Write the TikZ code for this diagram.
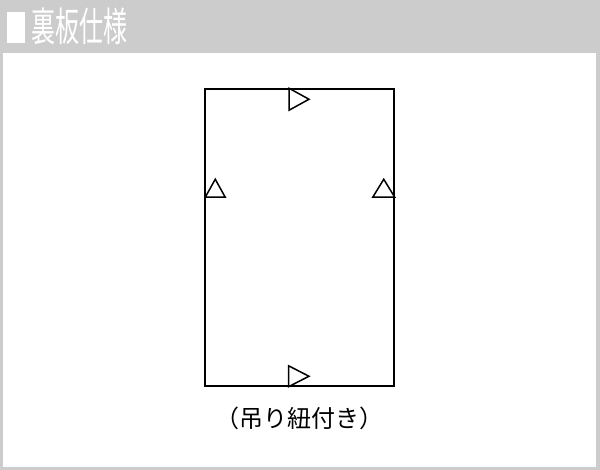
\documentclass[tikz,border=0pt]{standalone}
\usepackage{fontspec}
\newfontfamily\jpfont{Noto Sans CJK JP}
\newfontfamily\jptitle[FakeStretch=0.6]{Noto Sans CJK JP}
\usepackage{xcolor}
\usetikzlibrary{positioning}
\definecolor{headgray}{HTML}{CCCCCC}
\tikzstyle{board} = [draw, line width=1.5pt, minimum width=189pt, minimum height=297pt, inner sep=0pt]
\tikzstyle{tri} = [line width=1.5pt, line join=miter]

\begin{document}
\begin{tikzpicture}[x=1pt,y=-1pt]
        \useasboundingbox (0,0) rectangle (600,470);
        \fill[headgray] (0,0) rectangle (600,470);
        \fill[white] (3,53) rectangle (596,467);

        \node[fill=white, minimum width=18pt, minimum height=31pt, inner sep=0pt] (sq) at (16,27.5) {};
        \node[text=white, font=\jptitle\fontsize{40}{40}\selectfont, inner sep=0pt] (title) at (79,26.5) {裏板仕様};

        \node[board] (bd) at (299.5,237.5) {};
        \node[font=\jpfont\fontsize{24}{24}\selectfont, inner sep=0pt] (cap)[below= 20pt of bd] {（吊り紐付き）};

        % hanging marks
        \draw[tri] ([xshift=-10.5pt]bd.north) -- ++(0,22) -- ++(20,-11) -- cycle;
        \draw[tri] ([xshift=-11pt]bd.south) -- ++(0,-21) -- ++(20.5,10.5) -- cycle;
        \draw[tri] ([xshift=1pt,yshift=-109pt]bd.north west) -- ++(20,0) -- ++(-10,-18) -- cycle;
        \draw[tri] ([xshift=-22pt,yshift=-109pt]bd.north east) -- ++(22,0) -- ++(-11,-18) -- cycle;
    \end{tikzpicture}
\end{document}
